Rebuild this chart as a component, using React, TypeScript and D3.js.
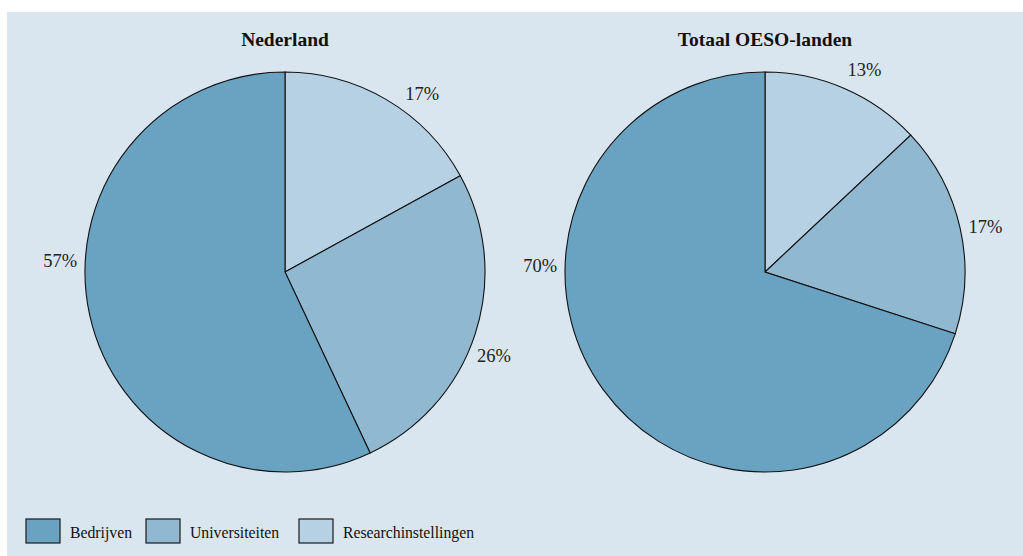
import React from "react";
import * as d3 from "d3";

const categories = ["Researchinstellingen", "Universiteiten", "Bedrijven"];
const legendOrder = ["Bedrijven", "Universiteiten", "Researchinstellingen"];
const pieTitles = ["Nederland", "Totaal OESO-landen"];
const nederlandValues = [17, 26, 57];
const oesoValues = [13, 17, 70];
const colors: Record<string, string> = {
  Bedrijven: "#6aa3c2",
  Universiteiten: "#90b8d1",
  Researchinstellingen: "#b5d1e3",
};
// label placement angles (degrees clockwise from 12 o'clock)
const nederlandLabelAngles = [37.6, 111.8, 272.8];
const oesoLabelAngles = [26.2, 78.5, 271.5];

const W = 1023;
const H = 556;
const FONT = "'Liberation Serif', 'DejaVu Serif', serif";

function Pie({ cx, cy, r, title, values, labelAngles }: any) {
  const data = categories.map((c, i) => ({ cat: c, value: values[i] }));
  const pie = d3.pie<any>().value((d) => d.value).sort(null);
  const arcs = pie(data);
  const arc = d3.arc<any>().innerRadius(0).outerRadius(r);
  const labelR = r + 25;
  return (
    <g>
      <text x={cx} y={cy - r - 26} textAnchor="middle" fontFamily={FONT} fontWeight="bold" fontSize={19.5} fill="#111">
        {title}
      </text>
      <g transform={`translate(${cx},${cy})`}>
        {arcs.map((a, i) => (
          <path key={i} d={arc(a) as string} fill={colors[a.data.cat]} stroke="#111" strokeWidth={1.1} />
        ))}
        {arcs.map((a, i) => {
          const ang = (labelAngles[i] * Math.PI) / 180;
          return (
            <text key={"l" + i} x={labelR * Math.sin(ang)} y={-labelR * Math.cos(ang)} textAnchor="middle" dominantBaseline="central" fontFamily={FONT} fontSize={18.5} fill="#222">
              {`${a.data.value}%`}
            </text>
          );
        })}
      </g>
    </g>
  );
}

export default function App() {
  const legendX = [26, 146, 299];
  return (
    <svg width={W} height={H} style={{ position: "absolute", left: 0, top: 0 }}>
      <rect x={0} y={0} width={W} height={H} fill="#ffffff" />
      <rect x={7} y={12} width={W - 7} height={H - 12} fill="#dae6ef" />
      <Pie cx={285} cy={272} r={200} title={pieTitles[0]} values={nederlandValues} labelAngles={nederlandLabelAngles} />
      <Pie cx={765} cy={272} r={200} title={pieTitles[1]} values={oesoValues} labelAngles={oesoLabelAngles} />
      {legendOrder.map((c, i) => (
        <g key={c}>
          <rect x={legendX[i]} y={519} width={34} height={24} fill={colors[c]} stroke="#1a1a1a" strokeWidth={1.2} />
          <text transform={`translate(${legendX[i] + 44},538) scale(0.9,1)`} fontFamily={FONT} fontSize={17.5} fill="#111">
            {c}
          </text>
        </g>
      ))}
    </svg>
  );
}
